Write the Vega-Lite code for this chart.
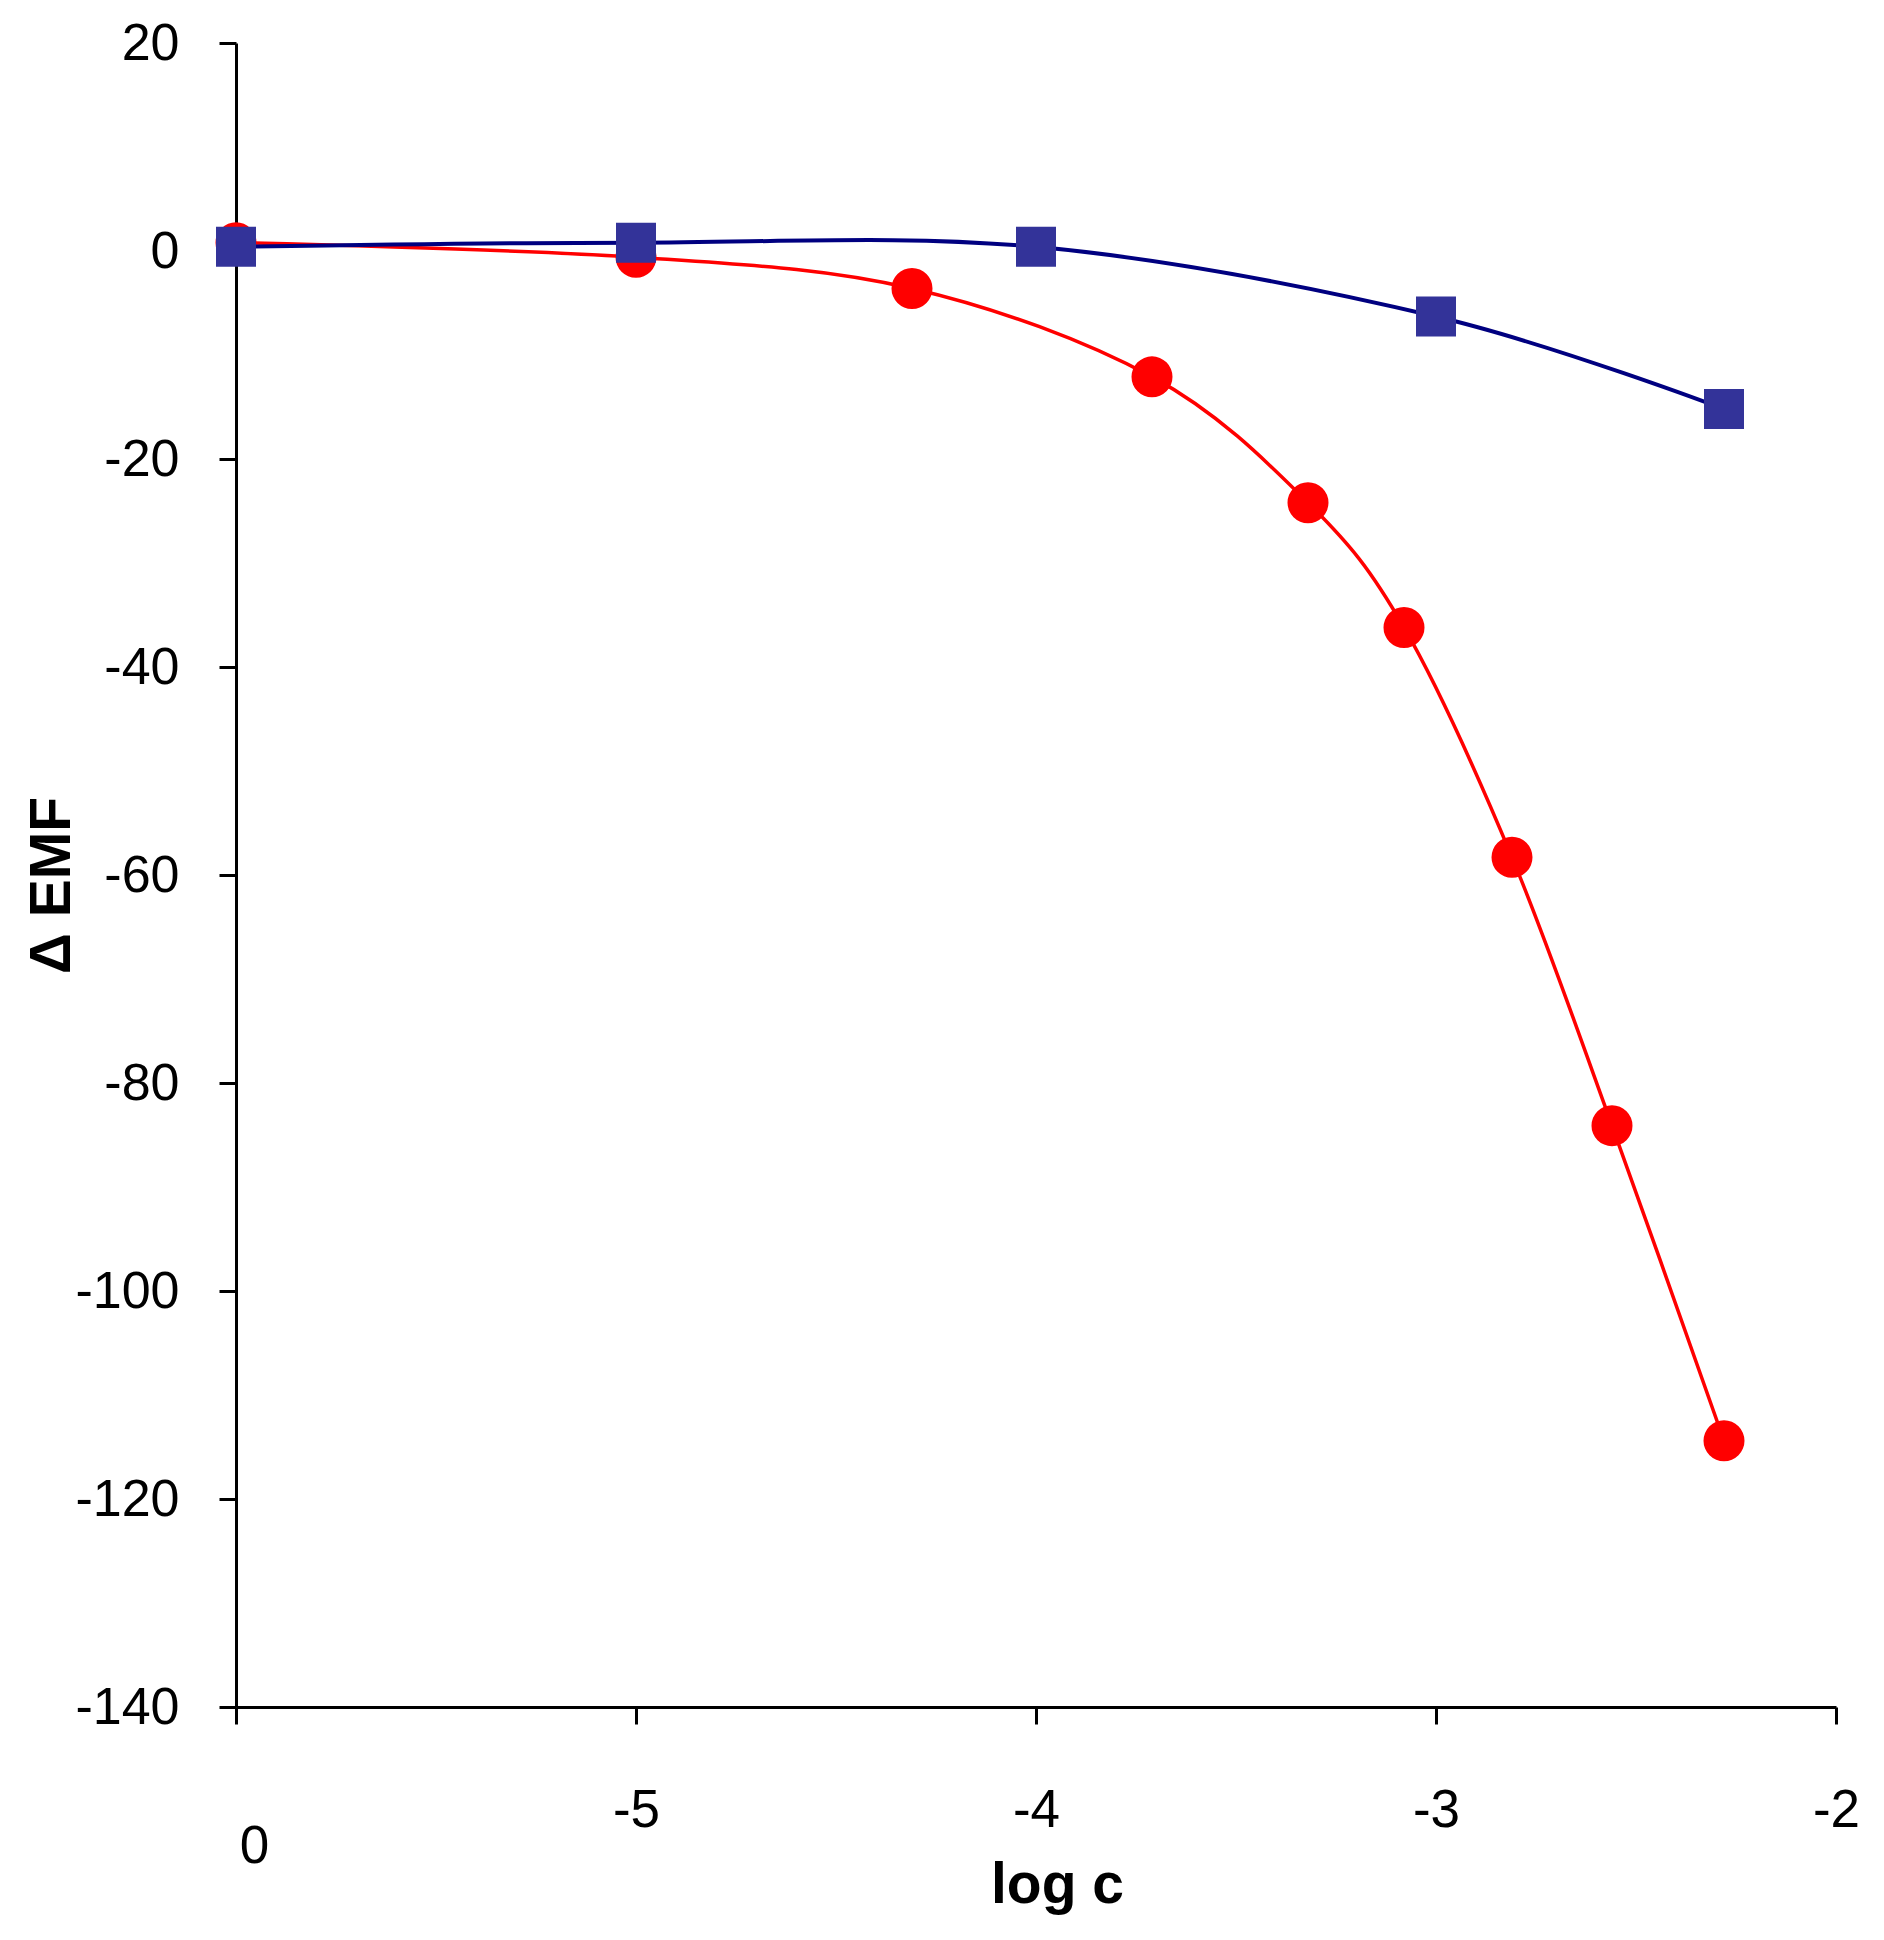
{
  "$schema": "https://vega.github.io/schema/vega-lite/v6.json",
  "description": "Delta EMF vs log c",
  "autosize": "none",
  "width": 1600,
  "height": 1664,
  "padding": {"left": 236, "top": 43, "right": 48, "bottom": 233},
  "background": "white",
  "data": {
    "values": [
      {"series": "red", "logc": -6, "emf": 0.8},
      {"series": "red", "logc": -5, "emf": -0.6},
      {"series": "red", "logc": -4.31, "emf": -3.6},
      {"series": "red", "logc": -3.71, "emf": -12.1},
      {"series": "red", "logc": -3.32, "emf": -24.2},
      {"series": "red", "logc": -3.08, "emf": -36.2},
      {"series": "red", "logc": -2.81, "emf": -58.3},
      {"series": "red", "logc": -2.56, "emf": -84.1},
      {"series": "red", "logc": -2.28, "emf": -114.4},
      {"series": "blue", "logc": -6, "emf": 0.4},
      {"series": "blue", "logc": -5, "emf": 0.8},
      {"series": "blue", "logc": -4, "emf": 0.4},
      {"series": "blue", "logc": -3, "emf": -6.3},
      {"series": "blue", "logc": -2.28, "emf": -15.2}
    ]
  },
  "encoding": {
    "x": {
      "field": "logc",
      "type": "quantitative",
      "scale": {"domain": [-6, -2], "nice": false, "zero": false},
      "axis": {
        "values": [-6, -5, -4, -3, -2],
        "grid": false,
        "title": "log c",
        "titleFont": "Liberation Sans",
        "titleFontSize": 57,
        "titleFontWeight": "bold",
        "titleColor": "black",
        "titleAlign": "center",
        "titleBaseline": "alphabetic",
        "titleX": 821,
        "titleY": 195,
        "labelExpr": "datum.value == -6 ? '0' : toString(datum.value)",
        "labelFont": "Liberation Sans",
        "labelFontSize": 53,
        "labelColor": "black",
        "labelPadding": {"condition": {"test": "datum.value == -6", "value": 96}, "value": 60},
        "labelOffset": {"condition": {"test": "datum.value == -6", "value": 18}, "value": 0},
        "labelFlush": false,
        "labelOverlap": false,
        "domainColor": "black",
        "domainWidth": 3,
        "tickColor": "black",
        "tickWidth": 3,
        "tickSize": 17
      }
    },
    "y": {
      "field": "emf",
      "type": "quantitative",
      "scale": {"domain": [-140, 20], "nice": false, "zero": false},
      "axis": {
        "values": [-140, -120, -100, -80, -60, -40, -20, 0, 20],
        "grid": false,
        "title": "Δ EMF",
        "titleFont": "Liberation Sans",
        "titleFontSize": 57,
        "titleFontWeight": "bold",
        "titleColor": "black",
        "titleAngle": -90,
        "titleAlign": "center",
        "titleBaseline": "alphabetic",
        "titleX": -167,
        "titleY": 842,
        "labelExpr": "toString(datum.value)",
        "labelFont": "Liberation Sans",
        "labelFontSize": 52,
        "labelColor": "black",
        "labelPadding": 40,
        "labelFlush": false,
        "labelOverlap": false,
        "domainColor": "black",
        "domainWidth": 3,
        "tickColor": "black",
        "tickWidth": 3,
        "tickSize": 17
      }
    }
  },
  "layer": [
    {
      "transform": [{"filter": "datum.series == 'red'"}],
      "mark": {"type": "line", "color": "#FF0000", "strokeWidth": 3.5, "interpolate": "cardinal"}
    },
    {
      "transform": [{"filter": "datum.series == 'red'"}],
      "mark": {"type": "point", "shape": "circle", "filled": true, "opacity": 1, "color": "#FF0000", "size": 1681}
    },
    {
      "transform": [{"filter": "datum.series == 'blue'"}],
      "mark": {"type": "line", "color": "#000080", "strokeWidth": 4, "interpolate": "cardinal"}
    },
    {
      "transform": [{"filter": "datum.series == 'blue'"}],
      "mark": {"type": "point", "shape": "square", "filled": true, "opacity": 1, "color": "#333399", "size": 1600}
    }
  ],
  "config": {
    "view": {"stroke": null}
  }
}
